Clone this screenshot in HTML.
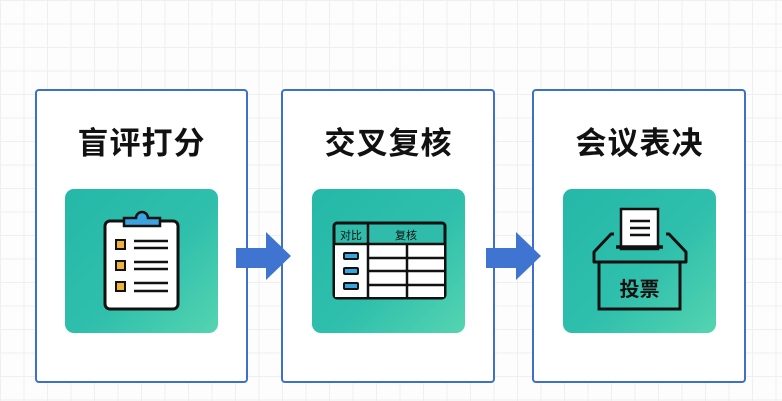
<!DOCTYPE html>
<html><head><meta charset="utf-8"><style>
html,body{margin:0;padding:0}
body{width:782px;height:401px;position:relative;overflow:hidden;background:#fdfdfd;
background-image:linear-gradient(#efefef 1px,transparent 1px),linear-gradient(90deg,#efefef 1px,transparent 1px);background-size:23.5px 23.5px;background-position:0 0;font-family:"Liberation Sans","Noto Sans CJK SC",sans-serif}
.p{position:absolute;top:89px;height:294px;width:213px;border:2px solid #3f6fcc;border-radius:4px;background:#fff;box-sizing:border-box}
.t{position:absolute;top:118px;width:213px;text-align:center;font-size:31px;font-weight:bold;color:#111;letter-spacing:1px}
.g{position:absolute;top:189px;width:153px;height:144px;border-radius:9px;background:linear-gradient(135deg,#25b8a8 0%,#2fbfac 55%,#55d4b0 100%)}
svg{position:absolute;left:0;top:0}
</style></head><body>
<div class="p" style="left:35px"></div>
<div class="p" style="left:281px;width:214px"></div>
<div class="p" style="left:532px;width:214px"></div>
<div class="t" style="left:35px">盲评打分</div>
<div class="t" style="left:282px">交叉复核</div>
<div class="t" style="left:533px">会议表决</div>
<div class="g" style="left:65px"></div>
<div class="g" style="left:312px"></div>
<div class="g" style="left:563px"></div>
<svg width="782" height="401" font-family="Liberation Sans,Noto Sans CJK SC,sans-serif">
<polygon points="236,248 266,248 266,232 291,256 266,280 266,268 236,268" fill="#3f74d0"/>
<polygon points="486,248 516,248 516,232 541,256 516,280 516,268 486,268" fill="#3f74d0"/>
<rect x="105" y="221" width="73" height="88" rx="5" fill="#fff" stroke="#111" stroke-width="3"/>
<path d="M124 226 v-8 h12 a6 6 0 0 1 12 0 h12 v8 z" fill="#3aa3e0" stroke="#111" stroke-width="2.5"/>
<g fill="#f0b23c" stroke="#111" stroke-width="2"><rect x="116" y="240" width="9" height="9"/><rect x="116" y="261" width="9" height="9"/><rect x="116" y="282" width="9" height="9"/></g>
<g stroke="#111" stroke-width="2.5"><line x1="134" y1="241" x2="168" y2="241"/><line x1="134" y1="248" x2="168" y2="248"/><line x1="134" y1="262" x2="168" y2="262"/><line x1="134" y1="269" x2="168" y2="269"/><line x1="134" y1="283" x2="168" y2="283"/><line x1="134" y1="291" x2="168" y2="291"/></g>
<rect x="334" y="223" width="111" height="75" rx="3" fill="#2fbcab" stroke="#111" stroke-width="3"/>
<rect x="335" y="245" width="109" height="52" fill="#fff"/>
<g stroke="#111" stroke-width="2.5"><line x1="334" y1="244" x2="445" y2="244"/><line x1="368" y1="223" x2="368" y2="298"/><line x1="407" y1="244" x2="407" y2="298"/><line x1="368" y1="258" x2="445" y2="258"/><line x1="368" y1="271" x2="445" y2="271"/><line x1="368" y1="285" x2="445" y2="285"/></g>
<text x="351" y="239" font-size="11" text-anchor="middle" fill="#111">对比</text>
<text x="406" y="239" font-size="11" text-anchor="middle" fill="#111">复核</text>
<g fill="#35a6e0" stroke="#111" stroke-width="2"><rect x="344" y="253" width="14" height="6" rx="1"/><rect x="344" y="268" width="14" height="6" rx="1"/><rect x="344" y="283" width="14" height="6" rx="1"/></g>
<rect x="621" y="209" width="37" height="40" fill="#fff" stroke="#111" stroke-width="2.5"/>
<g stroke="#111" stroke-width="2.5"><line x1="630" y1="221" x2="650" y2="221"/><line x1="630" y1="228" x2="650" y2="228"/><line x1="630" y1="235" x2="650" y2="235"/></g>
<path d="M614 234 h-3 l-17 18 v10 h92 v-10 l-17 -18 h-3" fill="none" stroke="#111" stroke-width="3" stroke-linejoin="round"/>
<line x1="616" y1="247" x2="663" y2="247" stroke="#111" stroke-width="3.5"/>
<rect x="599" y="262" width="81" height="47" fill="none" stroke="#111" stroke-width="3"/>
<text x="639.5" y="296" font-size="20" font-weight="bold" text-anchor="middle" fill="#111">投票</text>
</svg>
</body></html>
